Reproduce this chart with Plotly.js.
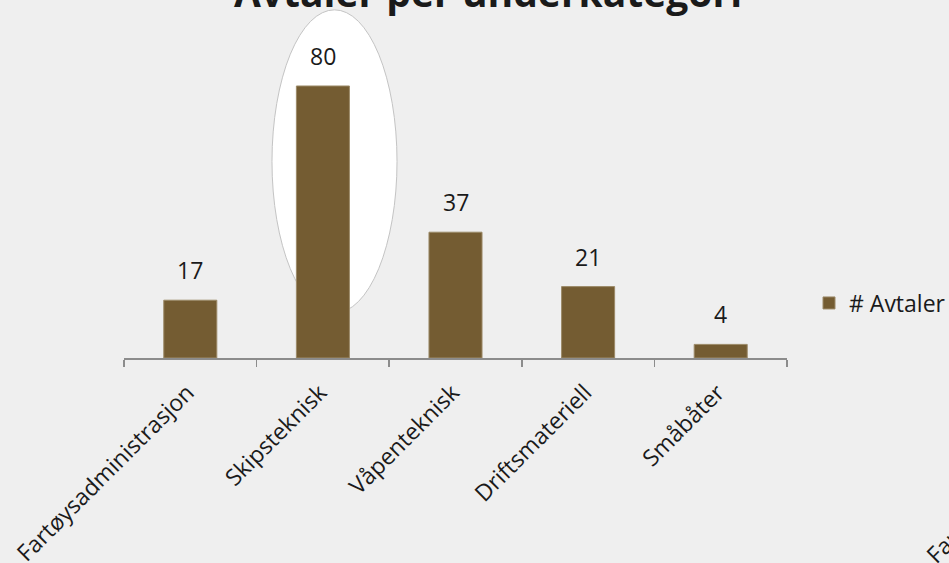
<!DOCTYPE html>
<html>
<head>
<meta charset="utf-8">
<script src="https://cdn.plot.ly/plotly-3.0.1.min.js"></script>
<style>html,body{margin:0;padding:0;background:#EFEFEF;}#chart{width:949px;height:563px;}</style>
</head>
<body>
<div id="chart"></div>
<script>
const categories = ["Fartøysadministrasjon", "Skipsteknisk", "Våpenteknisk", "Driftsmateriell", "Småbåter"];
const avtaler = [17, 80, 37, 21, 4];
const seriesName = "# Avtaler";
const chartTitle = "Avtaler per underkategori";

const barColor = "#745C32";
const font = "'Open Sans', 'Noto Sans', sans-serif";

const trace = {
  type: "bar",
  x: categories,
  y: avtaler,
  name: seriesName,
  marker: { color: barColor, line: { color: "#9C8A68", width: 1 } },
  hoverinfo: "x+y",
  showlegend: true
};

const labelAnnotations = categories.map((c, i) => ({
  x: c, y: avtaler[i], xref: "x", yref: "y",
  text: String(avtaler[i]), showarrow: false,
  yanchor: "bottom", yshift: 12,
  font: { family: font, size: 23, color: "#1a1a1a" }
}));

// chart title (partly cut off at the top edge, as in the original)
labelAnnotations.push({
  xref: "paper", yref: "paper",
  x: (488 - 124) / 663, y: (358 + 8) / 353,
  xanchor: "center", yanchor: "middle",
  text: "<b>" + chartTitle + "</b>", showarrow: false,
  font: { family: font, size: 39, color: "#1a1a1a" }
});

// cut-off duplicate label at the lower right edge
labelAnnotations.push({
  xref: "paper", yref: "paper",
  x: (916 - 124) / 663, y: (358 - 572) / 353,
  xanchor: "left", yanchor: "bottom",
  text: categories[0], textangle: -45, showarrow: false,
  font: { family: font, size: 23, color: "#1a1a1a" }
});

const layout = {
  width: 949, height: 563,
  paper_bgcolor: "#EFEFEF",
  plot_bgcolor: "rgba(0,0,0,0)",
  margin: { l: 124, r: 162, t: 5, b: 205, autoexpand: false },
  bargap: 0.6,
  xaxis: {
    type: "category",
    showgrid: false, zeroline: false,
    showline: true, linecolor: "#8C8C8C", linewidth: 2,
    ticks: "outside", ticklen: 7, tickcolor: "#8C8C8C", tickwidth: 1.5,
    tickson: "boundaries",
    tickangle: -45,
    ticklabelstandoff: 10,
    ticklabelshift: -3,
    tickfont: { family: font, size: 23, color: "#1a1a1a" },
    automargin: false
  },
  yaxis: {
    visible: false, range: [0, 103.82], showgrid: false, zeroline: false, fixedrange: true
  },
  showlegend: true,
  legend: {
    x: (809 - 124) / 663, xanchor: "left",
    y: (358 - 303) / 353, yanchor: "middle",
    bgcolor: "rgba(0,0,0,0)",
    font: { family: font, size: 23, color: "#1a1a1a" }
  },
  shapes: [{
    type: "circle", xref: "x", yref: "y", layer: "below",
    x0: 0.616, x1: 1.559, y0: 13.2, y1: 102.4,
    fillcolor: "#FFFFFF",
    line: { color: "#C4C4C4", width: 1 }
  }],
  annotations: labelAnnotations
};

Plotly.newPlot("chart", [trace], layout, { displayModeBar: false, staticPlot: true });
</script>
</body>
</html>
